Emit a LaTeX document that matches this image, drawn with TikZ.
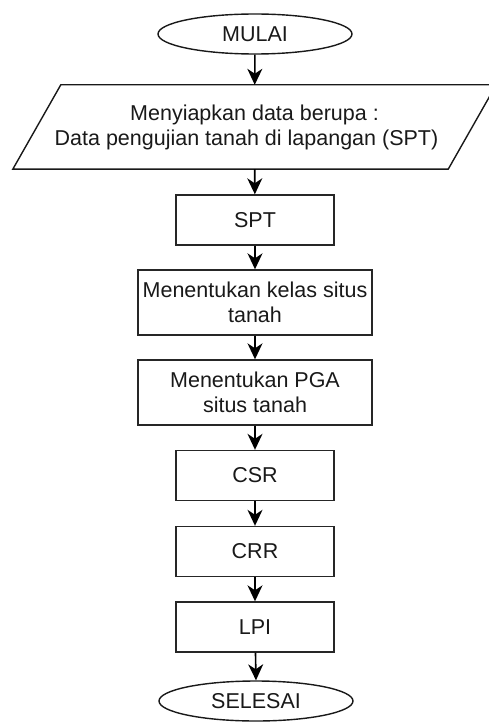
\documentclass[tikz,border=0pt]{standalone}
\usepackage{fontspec}
\setmainfont{Liberation Sans}
\usetikzlibrary{shapes.geometric,arrows.meta,calc}
\begin{document}
\begin{tikzpicture}[x=1pt,y=-1pt,
  every node/.style={font=\fontsize{21.5}{25}\selectfont, text=black!90, inner sep=0pt},
  term/.style={ellipse, draw=black!90, line width=1.4pt, minimum width=194pt, minimum height=40pt},
  procbox/.style={rectangle, draw=black!85, line width=1.4pt, align=center},
  smallbox/.style={procbox, minimum width=158pt, minimum height=50pt},
  widebox/.style={procbox, minimum width=234pt, minimum height=65pt},
  flow/.style={draw=black, line width=1.6pt, -{Stealth[length=16pt,width=15pt,inset=5pt]}}]
\useasboundingbox (0,0) rectangle (489,722);
\node[term] (mulai) at (255,34) {MULAI};
\node[rectangle, minimum width=387pt, minimum height=84pt, align=center] (input) at (254.5,127)
  {Menyiapkan data berupa :\\\hspace*{-16pt}Data pengujian tanah di lapangan (SPT)};
\draw[draw=black!90, line width=1.4pt] (input.north west) -- ($(input.north east)+(48,0)$)
  -- (input.south east) -- ($(input.south west)+(-48,0)$) -- cycle;
\node[smallbox] (spt) at (255,220) {SPT};
\node[widebox] (kelas) at (255,302.5) {Menentukan kelas situs\\tanah};
\node[widebox] (pga) at (255,392.5) {Menentukan PGA\\situs tanah};
\node[smallbox] (csr) at (255,475.5) {CSR};
\node[smallbox] (crr) at (255,551.5) {CRR};
\node[smallbox] (lpi) at (255,627) {LPI};
\node[term] (selesai) at (256,701) {SELESAI};
\draw[flow] (mulai) -- (input);
\draw[flow] (input) -- (spt);
\draw[flow] (spt) -- (kelas);
\draw[flow] (kelas) -- (pga);
\draw[flow] (pga) -- (csr);
\draw[flow] (csr) -- (crr);
\draw[flow] (crr) -- (lpi);
\draw[flow] (lpi) -- (selesai.north);
\end{tikzpicture}
\end{document}
